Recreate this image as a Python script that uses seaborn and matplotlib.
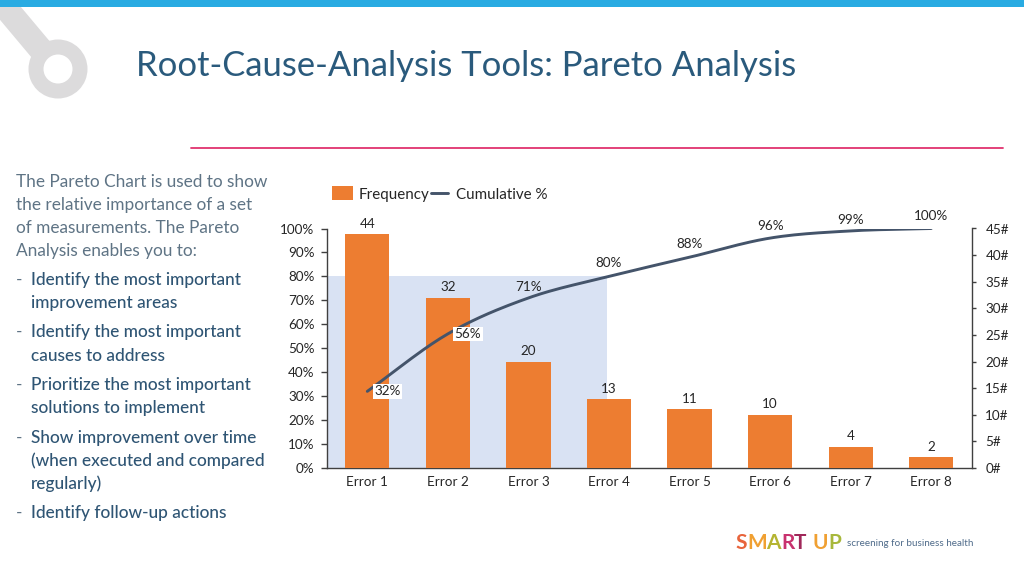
import numpy as np
import pandas as pd
import matplotlib
matplotlib.use("Agg")
import matplotlib.pyplot as plt
import seaborn as sns
from matplotlib.patches import Rectangle, Wedge
from matplotlib.lines import Line2D
from matplotlib.legend_handler import HandlerLine2D

categories = ["Error 1", "Error 2", "Error 3", "Error 4", "Error 5", "Error 6", "Error 7", "Error 8"]
frequency = [44, 32, 20, 13, 11, 10, 4, 2]
cumulative = [32, 56, 71, 80, 88, 96, 99, 100]
pct_ticks = list(range(0, 101, 10))
count_ticks = list(range(0, 46, 5))
highlight_pct = 80
title = "Root-Cause-Analysis Tools: Pareto Analysis"
intro_lines = ["The Pareto Chart is used to show", "the relative importance of a set",
               "of measurements. The Pareto", "Analysis enables you to:"]
bullet_lines = ["Identify the most important", "improvement areas",
                "Identify the most important", "causes to address",
                "Prioritize the most important", "solutions to implement",
                "Show improvement over time", "(when executed and compared",
                "regularly)", "Identify follow-up actions"]
bullet_dash = [True, False, True, False, True, False, True, False, False, True]
logo_letters = list("SMARTUP")
logo_colors = ["#E8643C", "#F0A032", "#B4B432", "#C8326E", "#A0285A", "#F0A032", "#A8B83C"]

ORANGE = "#ED7D31"
LINE = "#44546A"
TXT = "#262626"
W, H = 1024, 576
sns.set_theme(style="white")
plt.rcParams["font.family"] = ["Lato", "DejaVu Sans"]
fig = plt.figure(figsize=(W/100, H/100), dpi=100)

# page furniture in pixel coordinates
bg = fig.add_axes([0, 0, 1, 1], zorder=0)
bg.set_xlim(0, W); bg.set_ylim(H, 0); bg.axis("off")
bg.add_patch(Rectangle((0, 0), W, 6.5, color="#29ABE2", lw=0, zorder=3))
bg.plot([-5, 42], [-5, 51], color="#DCDBDC", lw=17.5, solid_capstyle="butt", zorder=1)
bg.add_patch(Wedge((58, 69), 29.5, 0, 360, width=15, color="#DCDBDC", lw=0, zorder=2))
bg.plot([191, 1003], [148, 148], color="#E0336E", lw=1.3)
bg.text(136, 66, title, fontsize=24.9, color="#2A5A7C", va="center", ha="left")
for i, s in enumerate(intro_lines):
    bg.text(16, 182 + i*22.9, s, fontsize=12.4, color="#5F7485", va="center")
bullet_pos = [280, 303, 332, 356, 385, 408, 438, 461, 484, 513]
for y, s, d in zip(bullet_pos, bullet_lines, bullet_dash):
    if d:
        bg.text(16, y, "-", fontsize=12.4, color="#5F7485", va="center")
    bg.text(31, y, s, fontsize=12.4, color="#2F5574", va="center", fontweight="medium")
logo_x = [735, 747, 766, 781, 794, 813, 828]
for ch, c, x in zip(logo_letters, logo_colors, logo_x):
    bg.text(x, 543, ch, fontsize=15, fontweight="bold", color=c, va="center")
bg.text(847, 543, "screening for business health", fontsize=7.1, color="#4F6B8A", va="center")

# chart
ax = fig.add_axes([327/W, 1-468/H, (971.5-327)/W, (468-228.5)/H], zorder=2)
ax.patch.set_alpha(0)
df = pd.DataFrame({"category": categories, "frequency": frequency})
sns.barplot(data=df, x="category", y="frequency", color=ORANGE, saturation=1, width=0.55, ax=ax,
            zorder=3, linewidth=0, edgecolor="none")
ax.set_xlim(-0.5, 7.5)
ax.set_ylim(0, 45)
ax.set_xlabel(""); ax.set_ylabel("")

axp = ax.twinx()
axp.patch.set_alpha(0)

# count axis on the right, percent axis on the left
ax.yaxis.tick_right()
ax.set_yticks(count_ticks, [f"{v}#" for v in count_ticks])
ax.tick_params(axis="y", length=3, width=1, color="#404040", labelsize=9.7, labelcolor=TXT, pad=7,
               left=False, right=True, labelleft=False, labelright=True, direction="out")
ax.tick_params(axis="x", length=0, labelsize=9.7, labelcolor=TXT, pad=6)
for s in ["top", "left"]:
    ax.spines[s].set_visible(False)
for s in ["bottom", "right"]:
    ax.spines[s].set_color("#404040"); ax.spines[s].set_linewidth(1)

axp.set_ylim(0, 100)
axp.yaxis.tick_left()
axp.set_yticks(pct_ticks, [f"{v}%" for v in pct_ticks])
axp.tick_params(axis="y", length=4, width=1, color="#404040", labelsize=9.7, labelcolor=TXT, pad=5,
                left=True, right=False, labelleft=True, labelright=False, direction="out")
for s in ["top", "right", "bottom"]:
    axp.spines[s].set_visible(False)
axp.spines["left"].set_visible(True)
axp.spines["left"].set_color("#404040")
axp.spines["left"].set_linewidth(1)

ax.add_patch(Rectangle((-0.5, 0), 3.47, highlight_pct*45/100, color="#D9E2F3", lw=0, zorder=1))

for i, v in enumerate(frequency):
    ax.annotate(str(v), (i, v), xytext=(0, 7.4), textcoords="offset points", ha="center", va="center",
                fontsize=9.7, color=TXT, zorder=6)

# smoothed cumulative line: Catmull-Rom through the data values
xs = np.arange(len(cumulative), dtype=float)
ys = np.array(cumulative, dtype=float)
p = np.concatenate([[2*ys[0]-ys[1]], ys, [2*ys[-1]-ys[-2]]])
sx, sy = [], []
for i in range(len(ys)-1):
    t = np.linspace(0, 1, 20, endpoint=False)
    a, b, c, d = p[i], p[i+1], p[i+2], p[i+3]
    sy.extend(0.5*(2*b + (c-a)*t + (2*a-5*b+4*c-d)*t**2 + (3*b-a-3*c+d)*t**3))
    sx.extend(xs[i] + t)
sx.append(xs[-1]); sy.append(ys[-1])
sns.lineplot(x=sx, y=sy, color=LINE, lw=2.1, ax=axp, zorder=4, estimator=None, sort=False)
axp.set_xlim(-0.5, 7.5)
axp.set_ylim(0, 100)
axp.set_xlabel(""); axp.set_ylabel("")

label_dx = [20, 20, 0, 0, 0, 0, 0, 0]
label_dy = [0, 0, 11, 13, 13, 12, 11, 12]
for i, v in enumerate(cumulative):
    axp.annotate(f"{v}%", (i, v), xytext=(label_dx[i]*0.72, label_dy[i]*0.72), textcoords="offset points",
                 ha="center", va="center", fontsize=9.7, color=TXT, zorder=6,
                 bbox=dict(fc="white", ec="none", pad=1.0) if label_dx[i] else None)


class InsetLine(HandlerLine2D):
    def create_artists(self, legend, orig_handle, xdescent, ydescent, width, height, fontsize, trans):
        return super().create_artists(legend, orig_handle, xdescent - 1.5, ydescent, width - 3,
                                       height, fontsize, trans)


bar_h = Rectangle((0, 0), 1, 1, color=ORANGE, lw=0)
line_h = Line2D([], [], color=LINE, lw=2.1)
leg = fig.legend([bar_h, line_h], ["Frequency", "Cumulative %"], loc="center left",
                 bbox_to_anchor=(332/W, 1-194/H), ncol=2, frameon=False, fontsize=10.9,
                 handlelength=1.4, handleheight=1.05, handletextpad=0.35, columnspacing=0,
                 borderpad=0, borderaxespad=0, labelcolor=TXT,
                 handler_map={line_h: InsetLine()})
fig.savefig("out.png", dpi=100)
